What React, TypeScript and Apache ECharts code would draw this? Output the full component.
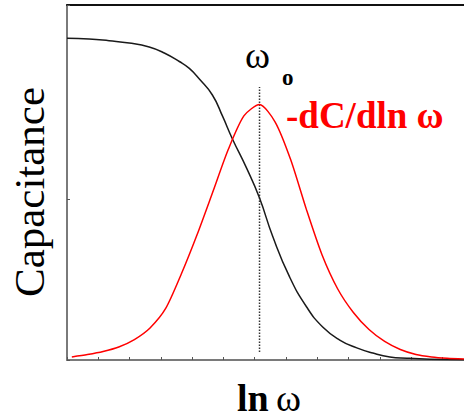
import React, { useEffect, useRef } from "react";
import * as echarts from "echarts";

// x in axis units (one tick = 1), y in axis units (0..2)
const blackX = [0, 0.705, 1.346, 1.987, 2.628, 3.109, 3.59, 3.91, 4.231, 4.647, 4.968, 5.288, 5.737, 6.154, 6.571, 7.115, 7.66, 8.173, 8.718, 9.263, 9.776, 10.32, 10.865, 11.6, 12.69];
const blackY = [1.998, 1.994, 1.983, 1.969, 1.944, 1.907, 1.854, 1.811, 1.745, 1.646, 1.516, 1.373, 1.193, 1.006, 0.77, 0.516, 0.329, 0.205, 0.124, 0.075, 0.043, 0.019, 0.011, 0.005, 0.002];

const redX = [0.154, 0.654, 1.154, 1.654, 2.154, 2.654, 3.154, 3.654, 4.154, 4.654, 5.154, 5.654, 6.154, 6.654, 7.154, 7.654, 8.154, 8.654, 9.154, 9.654, 10.154, 10.654, 11.154, 11.654, 12.154, 12.69];
const redY = [0.019, 0.034, 0.053, 0.081, 0.127, 0.199, 0.32, 0.534, 0.776, 1.04, 1.307, 1.516, 1.587, 1.478, 1.242, 0.934, 0.652, 0.441, 0.295, 0.189, 0.115, 0.065, 0.034, 0.019, 0.011, 0.006];

const peakX = 6.154;
const dottedY = [0.05, 1.696];

const xMax = 12.69;
const yMax = 2.205;

export default function App() {
  const ref = useRef<HTMLDivElement>(null);
  useEffect(() => {
    if (!ref.current) return;
    const chart = echarts.init(ref.current, null, { renderer: "svg" });
    const serif = "'Liberation Serif', 'Times New Roman', serif";
    chart.setOption({
      animation: false,
      backgroundColor: "#ffffff",
      grid: { left: 67, right: 0, top: 5, bottom: 58 },
      xAxis: [
        {
          type: "value",
          min: 0,
          max: xMax,
          interval: 1,
          axisLine: { show: true, onZero: false, lineStyle: { color: "#7a7a7a", width: 2 } },
          axisTick: { show: true, inside: true, length: 3, lineStyle: { color: "#555", width: 1 } },
          axisLabel: { show: false },
          splitLine: { show: false },
        },
        {
          type: "value",
          position: "top",
          min: 0,
          max: 1,
          axisLine: { show: true, onZero: false, lineStyle: { color: "#111", width: 2 } },
          axisTick: { show: false },
          axisLabel: { show: false },
          splitLine: { show: false },
        },
      ],
      yAxis: {
        type: "value",
        min: 0,
        max: yMax,
        interval: 1,
        axisLine: { show: true, onZero: false, lineStyle: { color: "#7a7a7a", width: 2 } },
        axisTick: { show: true, inside: true, length: 3, lineStyle: { color: "#555", width: 1 } },
        axisLabel: { show: false },
        splitLine: { show: false },
      },
      series: [
        {
          type: "line",
          data: dottedY.map((y) => [peakX, y]),
          showSymbol: false,
          lineStyle: { color: "#333", width: 1.5, type: [1.5, 1.5] },
          z: 1,
        },
        {
          type: "line",
          data: blackX.map((x, i) => [x, blackY[i]]),
          smooth: true,
          showSymbol: false,
          lineStyle: { color: "#1a1a1a", width: 1.5 },
          z: 2,
        },
        {
          type: "line",
          data: redX.map((x, i) => [x, redY[i]]),
          smooth: 0.25,
          showSymbol: false,
          lineStyle: { color: "#ff0000", width: 1.5 },
          z: 3,
        },
      ],
      graphic: [
        {
          type: "text",
          x: 29.5,
          y: 192,
          rotation: Math.PI / 2,
          style: { text: "Capacitance", font: `43px ${serif}`, fill: "#000", align: "center", verticalAlign: "middle" },
        },
        {
          type: "text",
          x: 237,
          y: 398,
          style: { text: "ln", font: `bold 38px ${serif}`, fill: "#000", align: "left", verticalAlign: "middle" },
        },
        {
          type: "text",
          x: 276,
          y: 398,
          style: { text: "ω", font: `38px ${serif}`, fill: "#000", align: "left", verticalAlign: "middle" },
        },
        {
          type: "text",
          x: 245,
          y: 55,
          style: { text: "ω", font: `38px ${serif}`, fill: "#000", align: "left", verticalAlign: "middle" },
        },
        {
          type: "text",
          x: 282,
          y: 77.5,
          style: { text: "o", font: `bold 23px ${serif}`, fill: "#000", align: "left", verticalAlign: "middle" },
        },
        {
          type: "text",
          x: 286,
          y: 115.5,
          style: { text: "-dC/dln ω", font: `bold 37px ${serif}`, fill: "#ff0000", align: "left", verticalAlign: "middle" },
        },
      ],
    });
    return () => chart.dispose();
  }, []);
  return (
    <div
      ref={ref}
      style={{ position: "absolute", left: 0, top: 0, width: 464, height: 418 }}
    />
  );
}
